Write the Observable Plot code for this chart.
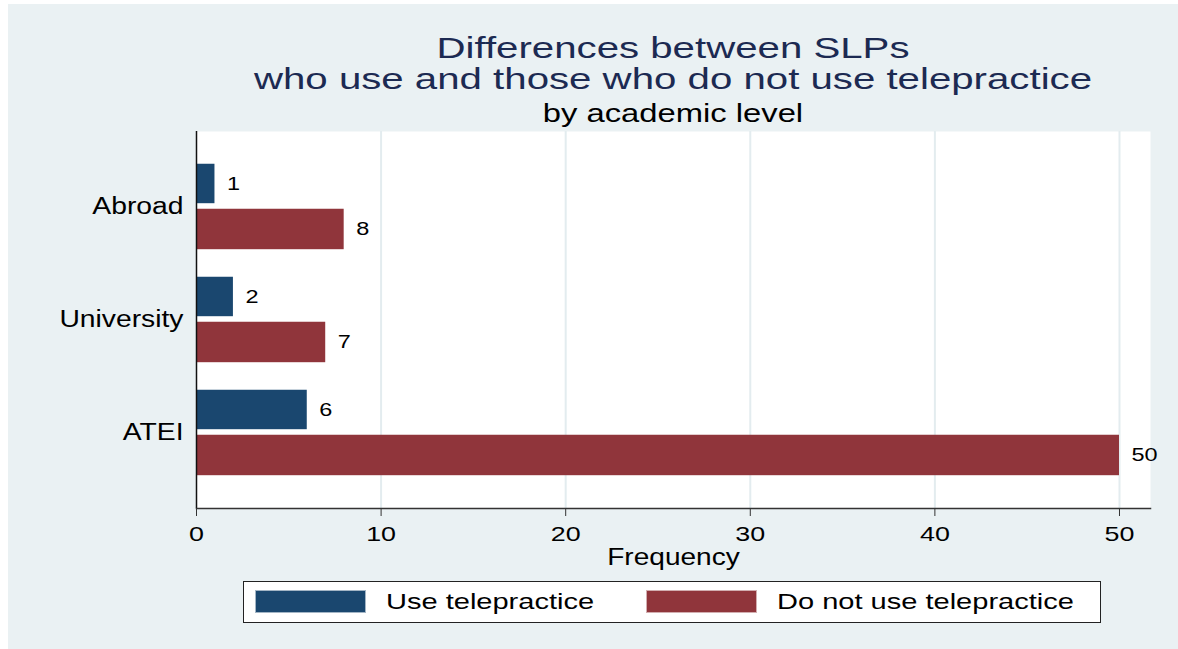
<!DOCTYPE html>
<html><head><meta charset="utf-8">
<script src="https://cdn.jsdelivr.net/npm/d3@7"></script>
<script src="https://cdn.jsdelivr.net/npm/@observablehq/plot@0.6"></script>
<style>
html,body{margin:0;padding:0;background:#fff;}
#page{position:relative;width:1178px;height:649px;overflow:hidden;font-family:"Liberation Sans",Arial,sans-serif;}
#bg{position:absolute;left:8px;top:4px;right:0;bottom:0;background:#EAF1F3;}
#chart{position:absolute;left:0;top:0;}
.ttl{position:absolute;white-space:nowrap;line-height:1;transform-origin:center;}
#legend{position:absolute;left:243px;top:581px;width:856px;height:40px;background:#fff;border:1.5px solid #222;}
.sw{position:absolute;top:8px;width:111px;height:23px;box-sizing:border-box;border:1px solid rgba(255,255,255,0.6);}
.lt{position:absolute;white-space:nowrap;line-height:1;font-size:22.5px;color:#000;transform-origin:left center;}
</style></head>
<body>
<div id="page"><div id="bg"></div><div id="chart"></div></div>
<script>
const categories = ["Abroad", "University", "ATEI"];
const seriesNames = ["Use telepractice", "Do not use telepractice"];
const useValues = [1, 2, 6];
const notUseValues = [8, 7, 50];
const xTicks = [0, 10, 20, 30, 40, 50];
const seriesColors = ["#1a476f", "#90353b"];
const titleLines = ["Differences between SLPs", "who use and those who do not use telepractice"];
const subtitleText = "by academic level";
const xLabel = "Frequency";

const data = categories.flatMap((c, i) => [
  {category: c, series: seriesNames[0], value: useValues[i]},
  {category: c, series: seriesNames[1], value: notUseValues[i]}
]);
const useData = data.filter(d => d.series === seriesNames[0]);
const notData = data.filter(d => d.series === seriesNames[1]);

const plot = Plot.plot({
  width: 1178, height: 649,
  marginLeft: 196, marginRight: 28, marginTop: 131, marginBottom: 141,
  style: {background: "transparent", fontFamily: "Liberation Sans, Arial, sans-serif", color: "#000", overflow: "visible"},
  x: {domain: [0, 51.68]},
  y: {domain: categories, type: "band", paddingInner: 0, paddingOuter: 0.154},
  color: {domain: seriesNames, range: seriesColors},
  marks: [
    Plot.frame({fill: "white", stroke: null}),
    Plot.gridX(xTicks.filter(t => t > 0), {stroke: "#E3ECEF", strokeOpacity: 1, strokeWidth: 2}),
    Plot.barX(useData, {x: "value", y: "category", fill: "series", insetTop: 13.75, insetBottom: 59.8}),
    Plot.barX(notData, {x: "value", y: "category", fill: "series", insetTop: 58.75, insetBottom: 13.8}),
    Plot.text(useData, {x: "value", y: "category", text: d => String(d.value), textAnchor: "start", dx: 12, dy: -23, fontSize: 18.5, fill: "#000"}),
    Plot.text(notData, {x: "value", y: "category", text: d => String(d.value), textAnchor: "start", dx: 12, dy: 22.5, fontSize: 18.5, fill: "#000"}),
    Plot.ruleX([0], {stroke: "#111", strokeWidth: 1.5}),
    Plot.frame({anchor: "bottom", stroke: "#333", strokeWidth: 1.5}),
    Plot.axisX({ticks: xTicks, tickSize: 8, tickPadding: 10, fontSize: 21, label: null, stroke: "#333"}),
    Plot.axisY({tickSize: 0, tickPadding: 13, fontSize: 23, label: null}),
    Plot.text([xLabel], {frameAnchor: "bottom", text: d => d, dy: 56, fontSize: 23, fill: "#000"})
  ]
});

// horizontal stretch of text glyphs to match the reference's wide lettering
plot.querySelectorAll("text").forEach(el => {
  const g = el.closest("g[aria-label]");
  const lab = g ? g.getAttribute("aria-label") : "";
  let s = 1.27;
  if (lab === "y-axis tick label") s = 1.23;
  else if (lab === "x-axis tick label") s = 1.28;
  if (el.textContent === xLabel) s = 1.22;
  const x = parseFloat(el.getAttribute("x")) || 0;
  const t = el.getAttribute("transform") || "";
  el.setAttribute("transform", `${t} translate(${x},0) scale(${s},1) translate(${-x},0)`);
});

const page = document.getElementById("page");
document.getElementById("chart").appendChild(plot);

function addTitle(text, fs, top, color, s) {
  const d = document.createElement("div");
  d.className = "ttl";
  d.textContent = text;
  d.style.fontSize = fs + "px";
  d.style.top = top + "px";
  d.style.left = "673px";
  d.style.color = color;
  d.style.transform = `translateX(-50%) scaleX(${s})`;
  page.appendChild(d);
}
addTitle(titleLines[0], 30, 33, "#1c2a52", 1.34);
addTitle(titleLines[1], 30, 63.5, "#1c2a52", 1.34);
addTitle(subtitleText, 25, 101, "#000", 1.31);

// legend built from the plot's color scale
const cs = plot.scale("color");
const legend = document.createElement("div");
legend.id = "legend";
const swLeft = [11, 402];
const txLeft = [142, 533];
cs.domain.forEach((name, i) => {
  const sw = document.createElement("div");
  sw.className = "sw";
  sw.style.left = swLeft[i] + "px";
  sw.style.background = cs.range[i];
  legend.appendChild(sw);
  const tx = document.createElement("div");
  tx.className = "lt";
  tx.textContent = name;
  tx.style.left = txLeft[i] + "px";
  tx.style.top = "9px";
  tx.style.transform = "scaleX(1.29)";
  legend.appendChild(tx);
});
page.appendChild(legend);
</script>
</body></html>
